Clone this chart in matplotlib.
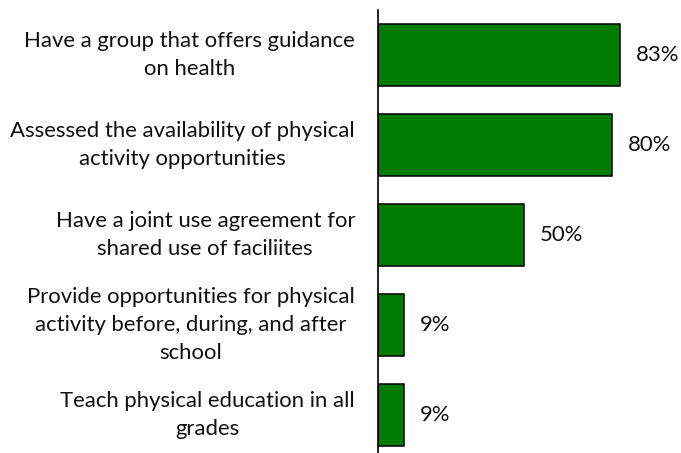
import matplotlib
matplotlib.use("Agg")
import matplotlib.pyplot as plt

categories = [
    "Have a group that offers guidance\non health",
    "Assessed the availability of physical\nactivity opportunities",
    "Have a joint use agreement for\nshared use of faciliites",
    "Provide opportunities for physical\nactivity before, during, and after\nschool",
    "Teach physical education in all\ngrades",
]
values = [83, 80, 50, 9, 9]
value_labels = ["83%", "80%", "50%", "9%", "9%"]

W, H = 681, 453
DPI = 100
fig = plt.figure(figsize=(W / DPI, H / DPI), dpi=DPI)
FONT = "Lato"

# axes: left spine at x=378px, top at y=10px, bottom at figure bottom
left_px, right_px = 378, 670
top_px = 10
ax = fig.add_axes([left_px / W, 0, (right_px - left_px) / W, (H - top_px) / H])

ypos = list(range(len(values)))
ax.barh(ypos, values, height=0.678, color="#007d00", edgecolor="black", linewidth=1.1)
ax.set_xlim(0, 100)
# category i centred at 55 + 90*i px from top
ax.set_ylim((H - 55) / 90, -0.5)

for s in ["top", "right", "bottom"]:
    ax.spines[s].set_visible(False)
ax.spines["left"].set_linewidth(1.2)
ax.set_xticks([])
ax.set_yticks([])

# choose font size so that the reference line width matches
renderer = fig.canvas.get_renderer()
probe = fig.text(0, 0, "Provide opportunities for physical", fontsize=12, family=FONT)
w12 = probe.get_window_extent(renderer).width
probe.remove()
fs = 12 * 327 / w12
ls = 1.16 * 29 / (fs * DPI / 72)

from matplotlib.transforms import blended_transform_factory, ScaledTranslation
trans_lab = blended_transform_factory(fig.transFigure, ax.transData)
for y, lab in zip(ypos, categories):
    ax.text(355 / W, y, lab, transform=trans_lab, ha="right", va="center",
            multialignment="center", fontsize=fs, family=FONT, linespacing=ls,
            color="#111111")

off = ScaledTranslation(16 / DPI, 0, fig.dpi_scale_trans)
for y, v, t in zip(ypos, values, value_labels):
    ax.text(v, y, t, transform=ax.transData + off, ha="left", va="center",
            fontsize=fs, family=FONT, color="#111111")

fig.savefig("out.png", dpi=DPI)
